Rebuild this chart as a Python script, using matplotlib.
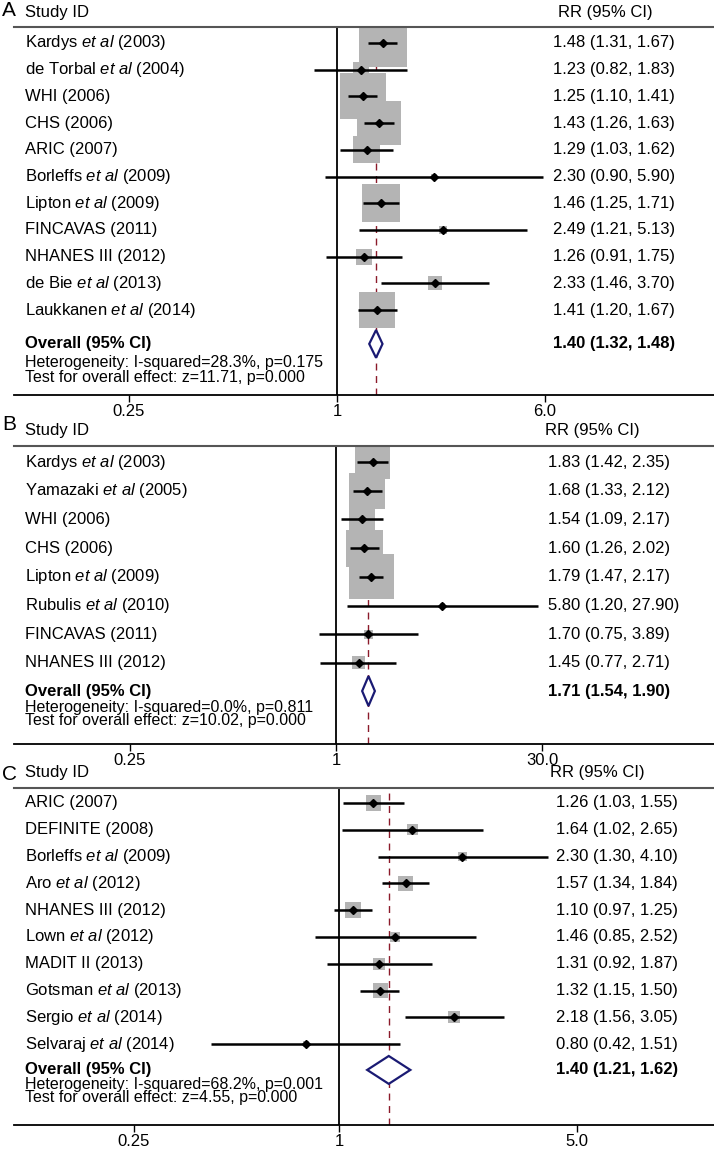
import numpy as np
import matplotlib
matplotlib.use("Agg")
import matplotlib.pyplot as plt

plt.rcParams['font.family'] = ['Liberation Sans', 'DejaVu Sans']
plt.rcParams['mathtext.fontset'] = 'custom'
plt.rcParams['mathtext.rm'] = 'Liberation Sans'
plt.rcParams['mathtext.it'] = 'Liberation Sans:italic'

ETAL = r'$\mathit{et\ al}$'

# ---- panel A ----
studies_a = ['Kardys ' + ETAL + ' (2003)', 'de Torbal ' + ETAL + ' (2004)', 'WHI (2006)',
             'CHS (2006)', 'ARIC (2007)', 'Borleffs ' + ETAL + ' (2009)',
             'Lipton ' + ETAL + ' (2009)', 'FINCAVAS (2011)', 'NHANES III (2012)',
             'de Bie ' + ETAL + ' (2013)', 'Laukkanen ' + ETAL + ' (2014)']
rr_a = [1.48, 1.23, 1.25, 1.43, 1.29, 2.30, 1.46, 2.49, 1.26, 2.33, 1.41]
lo_a = [1.31, 0.82, 1.10, 1.26, 1.03, 0.90, 1.25, 1.21, 0.91, 1.46, 1.20]
hi_a = [1.67, 1.83, 1.41, 1.63, 1.62, 5.90, 1.71, 5.13, 1.75, 3.70, 1.67]
wt_a = [21.7, 2.4, 19.9, 18.2, 6.9, 0.3, 13.6, 0.6, 2.4, 1.8, 12.2]
overall_a = (1.40, 1.32, 1.48)
het_a = 'Heterogeneity: I-squared=28.3%, p=0.175'
test_a = 'Test for overall effect: z=11.71, p=0.000'
ticks_a = [1 / 6, 1, 6]
ticklabels_a = ['0.25', '1', '6.0']

# ---- panel B ----
studies_b = ['Kardys ' + ETAL + ' (2003)', 'Yamazaki ' + ETAL + ' (2005)', 'WHI (2006)',
             'CHS (2006)', 'Lipton ' + ETAL + ' (2009)', 'Rubulis ' + ETAL + ' (2010)',
             'FINCAVAS (2011)', 'NHANES III (2012)']
rr_b = [1.83, 1.68, 1.54, 1.60, 1.79, 5.80, 1.70, 1.45]
lo_b = [1.42, 1.33, 1.09, 1.26, 1.47, 1.20, 0.75, 0.77]
hi_b = [2.35, 2.12, 2.17, 2.02, 2.17, 27.90, 3.89, 2.71]
wt_b = [17.8, 18.9, 9.8, 19.9, 29.5, 0.4, 1.2, 2.5]
overall_b = (1.71, 1.54, 1.90)
het_b = 'Heterogeneity: I-squared=0.0%, p=0.811'
test_b = 'Test for overall effect: z=10.02, p=0.000'
ticks_b = [1 / 30, 1, 30]
ticklabels_b = ['0.25', '1', '30.0']

# ---- panel C ----
studies_c = ['ARIC (2007)', 'DEFINITE (2008)', 'Borleffs ' + ETAL + ' (2009)',
             'Aro ' + ETAL + ' (2012)', 'NHANES III (2012)', 'Lown ' + ETAL + ' (2012)',
             'MADIT II (2013)', 'Gotsman ' + ETAL + ' (2013)', 'Sergio ' + ETAL + ' (2014)',
             'Selvaraj ' + ETAL + ' (2014)']
rr_c = [1.26, 1.64, 2.30, 1.57, 1.10, 1.46, 1.31, 1.32, 2.18, 0.80]
lo_c = [1.03, 1.02, 1.30, 1.34, 0.97, 0.85, 0.92, 1.15, 1.56, 0.42]
hi_c = [1.55, 2.65, 4.10, 1.84, 1.25, 2.52, 1.87, 1.50, 3.05, 1.51]
wt_c = [14.5, 7.8, 5.2, 14.5, 16.4, 6.4, 9.2, 14.5, 9.2, 2.3]
overall_c = (1.40, 1.21, 1.62)
het_c = 'Heterogeneity: I-squared=68.2%, p=0.001'
test_c = 'Test for overall effect: z=4.55, p=0.000'
ticks_c = [0.25, 1, 5]
ticklabels_c = ['0.25', '1', '5.0']

W, H = 714, 1151
fig = plt.figure(figsize=(W / 100, H / 100), dpi=100)

AX_LEFT, AX_RIGHT = 14, 714   # px
FS = 12
FS_SMALL = 11.5
BOX = '#b4b4b4'
NAVY = '#1a1a73'
RED = '#8b1a2a'


def draw_panel(letter, studies, rr, lo, hi, wt, overall, het, test, ticks, ticklabels,
               top, first, step, bottom, one_px, rtick_px, rr_px, hdr_dx, box_max,
               y_over, y_het, y_test, letter_y):
    ax = fig.add_axes([AX_LEFT / W, 1 - bottom / H, (AX_RIGHT - AX_LEFT) / W, (bottom - top) / H])
    ax.set_xscale('log')
    k = (rtick_px - one_px) / np.log(ticks[-1])
    ax.set_xlim(np.exp((AX_LEFT - one_px) / k), np.exp((AX_RIGHT - one_px) / k))
    ax.set_ylim((bottom - first) / step, -(first - top) / step)

    n = len(studies)
    y = np.arange(n)
    w = np.array(wt)
    # grey weight boxes, CI lines, point estimates
    ax.scatter(rr, y, s=(box_max * 0.72) ** 2 * w / w.max(), marker='s', color=BOX,
               linewidths=0, zorder=1)
    ax.hlines(y, lo, hi, color='black', lw=1.8, zorder=2)
    ax.plot(rr, y, 'D', color='black', ms=4.5, zorder=3)

    est, olo, ohi = overall
    yo = n - 1 + y_over
    ax.fill([olo, est, ohi, est], [yo, yo - 0.52, yo, yo + 0.52], facecolor='white',
            edgecolor=NAVY, lw=1.6, zorder=3)
    ax.axvline(1, color='black', lw=1.3, zorder=0)
    ax.axvline(est, color=RED, lw=1, ls=(0, (5, 4)), zorder=0)

    tr = ax.get_yaxis_transform()
    span = AX_RIGHT - AX_LEFT
    lx = (25 - AX_LEFT) / span
    rx = (rr_px - AX_LEFT) / span
    for i in range(n):
        ax.text(lx, y[i], studies[i], transform=tr, va='center', ha='left', fontsize=FS)
        ax.text(rx, y[i], '%.2f (%.2f, %.2f)' % (rr[i], lo[i], hi[i]), transform=tr,
                va='center', ha='left', fontsize=FS)
    ax.text(lx, yo, 'Overall (95% CI)', transform=tr, va='center', ha='left',
            fontsize=FS, fontweight='bold')
    ax.text(rx, yo, '%.2f (%.2f, %.2f)' % overall, transform=tr, va='center', ha='left',
            fontsize=FS, fontweight='bold')
    ax.text(lx, n - 1 + y_het, het, transform=tr, va='center', ha='left', fontsize=FS_SMALL)
    ax.text(lx, n - 1 + y_test, test, transform=tr, va='center', ha='left', fontsize=FS_SMALL)

    yh = -(first - top) / step - 15 / step
    ax.text(lx, yh, 'Study ID', transform=tr, va='center', ha='left', fontsize=FS, clip_on=False)
    ax.text(rx + hdr_dx / span, yh, 'RR (95% CI)', transform=tr, va='center',
            ha='left', fontsize=FS, clip_on=False)
    fig.text(2 / W, 1 - letter_y / H, letter, fontsize=15, va='center', ha='left')

    ax.set_xticks(ticks)
    ax.set_xticklabels(ticklabels, fontsize=FS)
    ax.xaxis.set_minor_locator(matplotlib.ticker.NullLocator())
    ax.tick_params(axis='x', length=5, width=1, pad=1.5)
    ax.set_yticks([])
    for s in ['left', 'right']:
        ax.spines[s].set_visible(False)
    ax.spines['top'].set_color('#555555')
    ax.spines['top'].set_linewidth(1.5)
    ax.spines['bottom'].set_linewidth(1.3)
    ax.patch.set_alpha(0)
    return ax


draw_panel('A', studies_a, rr_a, lo_a, hi_a, wt_a, overall_a, het_a, test_a, ticks_a, ticklabels_a,
           top=27, first=43, step=26.7, bottom=395, one_px=337, rtick_px=545, rr_px=553, hdr_dx=5,
           box_max=48, y_over=1.27, y_het=1.95, y_test=2.51, letter_y=11)
draw_panel('B', studies_b, rr_b, lo_b, hi_b, wt_b, overall_b, het_b, test_b, ticks_b, ticklabels_b,
           top=446, first=462, step=28.7, bottom=744, one_px=336, rtick_px=542, rr_px=548, hdr_dx=-3,
           box_max=45, y_over=0.98, y_het=1.54, y_test=2.02, letter_y=424)
draw_panel('C', studies_c, rr_c, lo_c, hi_c, wt_c, overall_c, het_c, test_c, ticks_c, ticklabels_c,
           top=788, first=803, step=26.8, bottom=1125, one_px=339, rtick_px=577, rr_px=556, hdr_dx=-6,
           box_max=16, y_over=0.96, y_het=1.49, y_test=2.0, letter_y=774)

fig.savefig('out.png', dpi=100)
